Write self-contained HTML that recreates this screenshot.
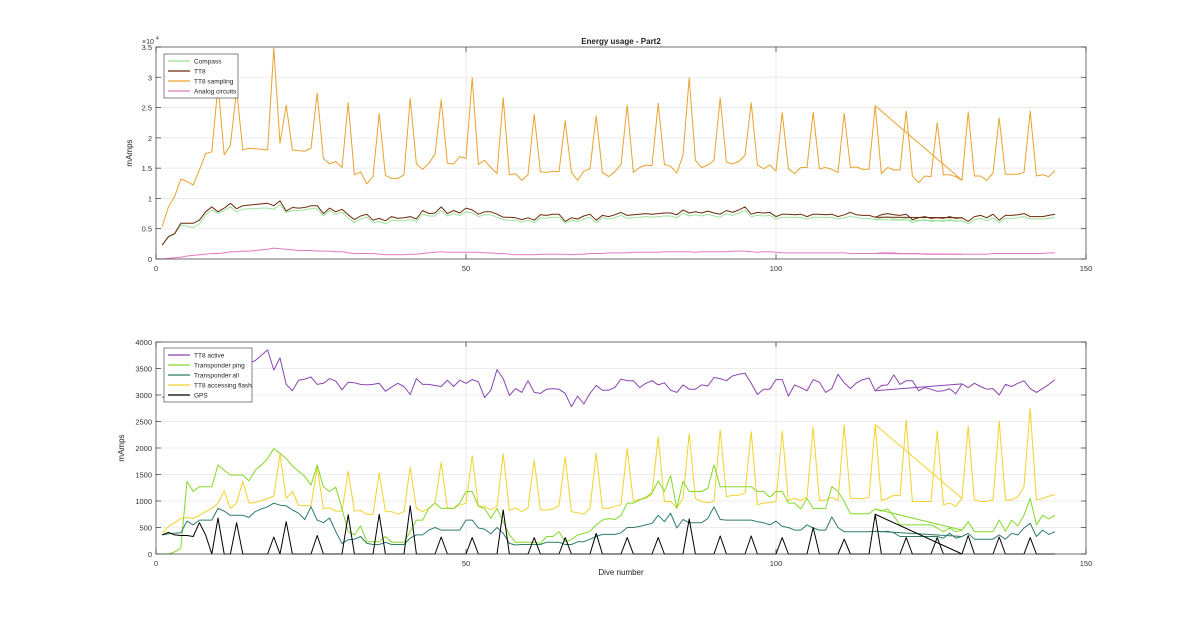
<!DOCTYPE html>
<html><head><meta charset="utf-8"><style>
body{margin:0;background:#fff;font-family:"Liberation Sans",sans-serif}
svg text{font-family:"Liberation Sans",sans-serif}
</style></head><body>
<svg id="chart" width="1200" height="622" viewBox="0 0 1200 622"></svg>
<script>
// ---- data (values per dive 1..145) ----
const topCompass=[2300,3600,4100,5600,5400,5200,5800,7300,8100,7500,8000,8600,7800,8200,8300,8300,8400,8400,8200,9000,7700,8000,8000,8100,8300,8300,7100,8000,7400,7700,6800,6000,6600,6900,6000,6200,5800,6400,6300,6300,6500,6200,7400,7100,7100,8000,7100,7500,7200,7800,
7600,7000,7300,7300,6900,6500,6400,6400,6100,6400,6000,6800,6700,6900,6900,5900,6400,6200,6600,6900,6000,6800,6600,6800,7200,6700,6800,6900,7000,6900,7000,7100,7100,6800,7600,7100,7300,7100,7400,7100,6900,7500,7200,7600,8000,7000,7200,7100,7200,6600,
6900,6900,6800,6900,6600,6900,6900,6800,6900,6600,6800,7100,6800,6700,6700,6500,6800,7000,6600,6500,6700,6000,6300,6500,6200,6300,6200,6500,6200,6300,5800,6500,6700,6300,6800,6000,6700,6700,6800,7000,6600,6600,6600,6700,6900];
const topTT8=[2300,3700,4200,5900,5900,5900,6400,7800,8600,7800,8400,9200,8300,8800,8900,9000,9100,9200,8800,9600,7900,8500,8400,8500,8800,8800,7500,8400,7800,8200,7300,6500,7100,7400,6400,6700,6300,7000,6700,6800,7000,6600,8000,7500,7600,8600,7500,8000,7600,8400,
8100,7400,7800,7800,7400,6900,6900,6800,6500,6800,6400,7300,7200,7400,7400,6200,6800,6600,7100,7400,6400,7200,7000,7300,7700,7200,7300,7400,7500,7400,7500,7600,7600,7300,8100,7600,7800,7600,7900,7600,7400,8000,7700,8100,8600,7400,7700,7600,7700,7000,
7400,7400,7300,7400,7000,7400,7400,7300,7400,7000,7300,7700,7300,7200,7200,6900,7300,7500,7300,7200,7400,6500,6800,7000,6700,6800,6700,7000,6700,6800,6200,7000,7200,6800,7400,6400,7200,7200,7300,7500,7000,7000,7000,7200,7400];
const topSampling=[5300,8600,10300,13200,12800,12200,14700,17400,17700,28700,17200,18800,27900,18000,18300,18200,18100,18000,34800,19100,25400,18000,17900,17800,18300,27400,16600,15700,16100,15100,25800,13900,14400,12400,13600,24000,13800,13300,13300,13900,26500,15700,14800,15800,17300,26300,15800,15700,16900,16600,
29900,15600,16300,15100,14100,26600,13900,14100,13000,13900,23900,14400,14300,14500,14400,22800,14300,13000,14500,14900,23600,14300,13600,14400,15600,25400,14300,15100,15500,15400,25700,15600,15300,14200,17100,29900,16300,15100,15500,16300,26600,16000,15700,16100,17100,25800,15500,14900,15500,14500,
24200,14900,14100,15100,15100,24200,14900,15100,14800,14300,24000,15100,15200,14800,14800,25300,14100,15100,14700,14700,24400,13700,12600,13700,13600,22500,13900,13900,13600,13000,24300,13700,13700,13000,14200,23300,14000,14000,14000,14300,24400,13700,13900,13600,14600];
const topAnalog=[0,100,200,300,500,600,700,800,900,900,1000,1200,1200,1300,1300,1400,1500,1600,1800,1700,1600,1500,1400,1400,1400,1300,1300,1300,1200,1200,1000,900,900,900,900,800,700,700,700,700,800,800,900,1000,1100,1200,1100,1100,1100,1100,
1100,1100,1000,1000,900,900,800,700,700,700,700,800,800,800,800,800,700,800,800,900,900,900,1000,1000,1000,1000,1100,1100,1100,1100,1100,1200,1200,1200,1200,1200,1100,1200,1200,1200,1200,1200,1300,1300,1300,1200,1100,1200,1200,1100,
1000,1000,1000,1000,1000,1000,1000,1000,1000,1000,1000,900,900,900,900,900,1000,1000,1000,900,900,900,900,800,800,800,800,800,800,800,800,800,800,800,900,900,900,900,900,900,900,900,900,1000,1000];
const botActive=[2950,3000,3050,3100,3150,3200,3250,3300,3350,3400,3450,3450,3500,3550,3600,3650,3750,3850,3470,3700,3200,3080,3280,3300,3340,3200,3220,3310,3260,3100,3240,3230,3200,3190,3200,3220,3070,3150,3220,3160,3010,3310,3200,3200,3180,3160,3280,3160,3280,3220,
3290,3250,2950,3090,3480,3310,2990,3120,3050,3270,3050,3030,3110,3120,3110,3030,2780,2980,2830,3030,3180,3090,3090,3140,3300,3270,3270,3140,3220,3270,3190,3230,3090,3050,3190,3110,3110,3190,3170,3330,3310,3270,3360,3390,3410,3220,3010,3110,3110,3290,
3290,2980,3190,3140,3080,3290,3240,3050,3120,3390,3230,3120,3230,3290,3320,3080,3180,3190,3380,3200,3270,3270,3080,3140,3110,3070,3080,3120,3020,3210,3140,3220,3160,3110,3120,3000,3200,3160,3220,3270,3120,3050,3120,3200,3290];
const botPing=[0,0,40,110,1370,1180,1270,1270,1270,1680,1580,1490,1490,1490,1380,1580,1680,1800,1990,1900,1800,1660,1560,1460,1300,1680,1270,1180,1260,850,420,360,530,230,230,230,330,220,220,220,420,640,640,860,960,860,860,860,960,1180,
1180,900,860,670,860,610,360,220,220,220,220,200,330,330,420,230,270,360,390,430,550,640,670,650,730,960,960,1020,1070,1150,1380,1180,1480,860,1370,1180,1180,1180,1240,1680,1270,1270,1270,1270,1270,1270,1180,1180,1070,1180,
1180,960,960,850,1050,860,860,860,1270,1180,990,760,760,760,760,850,810,850,720,550,550,550,550,550,550,490,420,490,420,450,610,420,420,420,420,640,430,640,530,730,1050,550,730,660,730];
const botAll=[360,380,390,400,620,550,640,640,640,860,810,730,730,730,690,800,850,890,960,920,910,830,770,650,890,640,590,680,420,200,270,280,330,200,180,180,220,180,180,180,300,360,360,450,500,450,450,450,450,640,
640,490,470,380,500,390,200,170,180,180,180,180,220,220,220,180,180,230,230,280,330,370,370,370,400,500,500,520,550,580,730,610,770,490,650,590,590,590,670,890,650,640,640,640,640,640,610,590,550,620,
520,500,450,450,550,490,450,450,700,500,420,420,420,420,420,430,420,430,400,330,330,330,330,330,330,330,300,390,300,330,390,280,280,280,280,360,280,390,360,490,580,330,450,370,420];
const botFlash=[390,520,590,670,690,670,730,800,860,960,1190,860,960,1370,960,970,1010,1050,1090,1890,1050,1180,920,910,910,1650,860,870,810,810,1560,810,820,750,750,1530,800,800,750,800,1640,860,800,860,960,1730,860,860,920,960,
1850,900,900,830,900,1890,820,870,800,870,1770,830,830,850,910,1830,800,780,750,860,1900,860,860,900,930,1990,990,1030,1050,1130,2210,990,990,870,1050,2270,1050,990,970,990,2340,1080,1110,1110,1150,2310,930,960,970,990,
2320,1010,1050,1010,1070,2390,1010,1020,1070,1010,2440,1050,1050,1040,1070,2440,1010,1050,1110,1100,2530,990,990,990,990,2320,930,960,900,1050,2410,1020,990,990,1020,2510,1020,1020,1080,1270,2750,1020,1050,1090,1120];
const botGPS=[360,410,360,350,350,330,590,360,0,680,0,0,590,0,0,0,0,0,320,0,610,0,0,0,0,350,0,0,0,0,740,0,0,0,0,750,0,0,0,0,910,0,0,0,0,320,0,0,0,0,
310,0,0,0,0,830,0,0,0,0,310,0,0,0,0,310,0,0,0,0,390,0,0,0,0,310,0,0,0,0,310,0,0,0,0,660,0,0,0,0,340,0,0,0,0,340,0,0,0,0,
310,0,0,0,0,500,0,0,0,0,280,0,0,0,0,750,0,0,0,0,310,0,0,0,0,310,0,0,0,0,350,0,0,0,0,320,0,0,0,0,310,0,0,0,0];
const dives=[];
for(let d=1;d<=145;d++)dives.push(d);
// log revisit: a straight segment from dive 116 to dive 130
const revisitFrom=116, revisitTo=130;
const xTicks=[0,50,100,150];
const topTickLabels=["0","0.5","1","1.5","2","2.5","3","3.5"];
const topTickValues=[0,5000,10000,15000,20000,25000,30000,35000];
const botTickValues=[0,500,1000,1500,2000,2500,3000,3500,4000];

const NS="http://www.w3.org/2000/svg";
const svg=document.getElementById('chart');
function el(tag,attrs,parent){const e=document.createElementNS(NS,tag);for(const k in attrs)e.setAttribute(k,attrs[k]);(parent||svg).appendChild(e);return e;}
const X0=156,X1=1086;
const xs=v=>X0+(v-0)/150*(X1-X0);
function axes(top,bot,ymax,yTicks,yLabels,name){
  const ys=v=>bot-(v/ymax)*(bot-top);
  const g=el('g',{});
  
  
  el('rect',{x:X0,y:top,width:X1-X0,height:bot-top,fill:'#fff'},g);
  yTicks.forEach((v,i)=>{
    const y=ys(v);
    if(i>0&&i<yTicks.length-1){const gl=el('line',{x1:X0,x2:X1,y1:y,y2:y,stroke:'#e6e6e6','stroke-width':0.8},g);}
    el('line',{x1:X0,x2:X0+5,y1:y,y2:y,stroke:'#333','stroke-width':0.7},g);
    el('line',{x1:X1,x2:X1-5,y1:y,y2:y,stroke:'#333','stroke-width':0.7},g);
    const t=el('text',{x:X0-4,y:y+3,'font-size':7.5,'text-anchor':'end',fill:'#333'},g);
    t.textContent=yLabels[i];
    
    
  });
  xTicks.forEach(v=>{
    const x=xs(v);
    if(v>0&&v<150){const gl=el('line',{x1:x,x2:x,y1:top,y2:bot,stroke:'#e6e6e6','stroke-width':0.8},g);}
    el('line',{x1:x,x2:x,y1:bot,y2:bot-5,stroke:'#333','stroke-width':0.7},g);
    el('line',{x1:x,x2:x,y1:top,y2:top+5,stroke:'#333','stroke-width':0.7},g);
    const t=el('text',{x:x,y:bot+12,'font-size':7.5,'text-anchor':'middle',fill:'#333'},g);
    t.textContent=String(v);
    
    
  });
  return ys;
}
function series(arr,ys,color,name,w){
  const pts=dives.map(d=>xs(d).toFixed(1)+','+ys(arr[d-1]).toFixed(1)).join(' ');
  const p=el('polyline',{points:pts,fill:'none',stroke:color,'stroke-width':w||1,'stroke-linejoin':'round'});
  
  
  const s=el('line',{x1:xs(revisitFrom),y1:ys(arr[revisitFrom-1]),x2:xs(revisitTo),y2:ys(arr[revisitTo-1]),stroke:color,'stroke-width':w||1});
  
  
}
function frame(top,bot){el('rect',{x:X0,y:top,width:X1-X0,height:bot-top,fill:'none',stroke:'#333','stroke-width':0.7});}
function legend(x,y,w,entries,name){
  const g=el('g',{});
  
  
  el('rect',{x:x,y:y,width:w,height:entries.length*10+4,fill:'#fff',stroke:'#333','stroke-width':0.6},g);
  entries.forEach((e,i)=>{
    const yy=y+7+i*10;
    const l=el('line',{x1:x+4,x2:x+26,y1:yy,y2:yy,stroke:e[1],'stroke-width':1.3},g);
    
    
    const t=el('text',{x:x+30,y:yy+2.5,'font-size':6.5,fill:'#222'},g);
    t.textContent=e[0];
    
    
  });
}
const C={comp:'#9be39b',tt8:'#6b2a0c',samp:'#e9a22e',ana:'#e27ac0',act:'#8a45b0',ping:'#84d82a',all:'#2f7b6a',flash:'#f3d22c',gps:'#000'};
const ysT=axes(47,259,35000,topTickValues,topTickLabels,'top');
series(topAnalog,ysT,C.ana,'analog-circuits-line');
series(topCompass,ysT,C.comp,'compass-line');
series(topTT8,ysT,C.tt8,'tt8-line');
series(topSampling,ysT,C.samp,'tt8-sampling-line');
frame(47,259);
legend(164,54,74,[['Compass',C.comp],['TT8',C.tt8],['TT8 sampling',C.samp],['Analog circuits',C.ana]],'top-legend');
const ysB=axes(342,554,4000,botTickValues,botTickValues.map(String),'bottom');
series(botActive,ysB,C.act,'tt8-active-line');
series(botFlash,ysB,C.flash,'tt8-accessing-flash-line');
series(botPing,ysB,C.ping,'transponder-ping-line');
series(botAll,ysB,C.all,'transponder-all-line');
series(botGPS,ysB,C.gps,'gps-line');
frame(342,554);
legend(164,348,88,[['TT8 active',C.act],['Transponder ping',C.ping],['Transponder all',C.all],['TT8 accessing flash',C.flash],['GPS',C.gps]],'bottom-legend');
function txt(s,attrs,name){const t=el('text',attrs);t.textContent=s;return t;}
txt('Energy usage - Part2',{x:621,y:44,'font-size':8,'font-weight':'bold','text-anchor':'middle',fill:'#222'},'chart-title');
txt('\u00d710',{x:142,y:44,'font-size':7,fill:'#333'},'y-exponent-label');
txt('4',{x:156,y:40,'font-size':5,fill:'#333'},'y-exponent-power');
txt('mAmps',{x:0,y:0,'font-size':8,'text-anchor':'middle',fill:'#222',transform:'translate(132,153) rotate(-90)'},'top-y-axis-title');
txt('mAmps',{x:0,y:0,'font-size':8,'text-anchor':'middle',fill:'#222',transform:'translate(124,448) rotate(-90)'},'bottom-y-axis-title');
txt('Dive number',{x:621,y:575,'font-size':8,'text-anchor':'middle',fill:'#222'},'x-axis-title');
</script>
</body></html>
